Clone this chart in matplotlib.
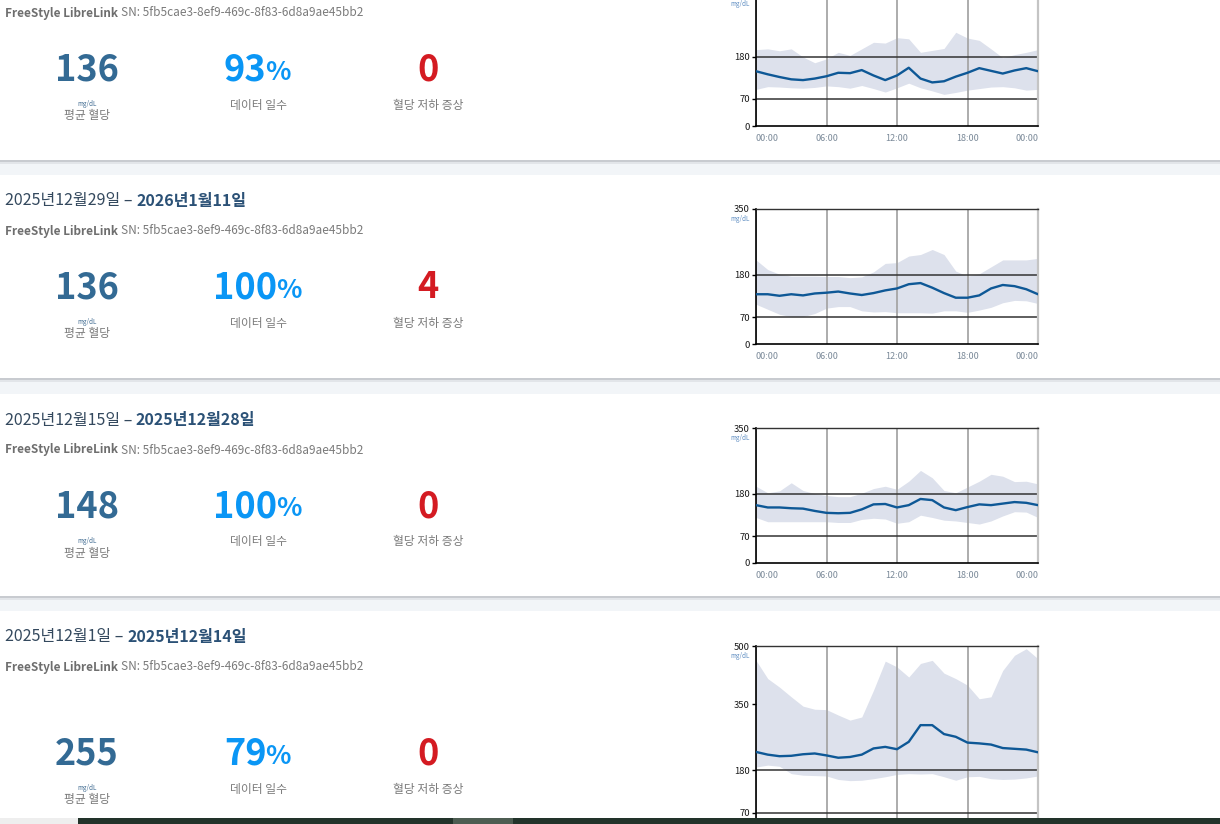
import matplotlib
matplotlib.use("Agg")
import matplotlib.pyplot as plt
from matplotlib.patches import Rectangle
import numpy as np

plt.rcParams['font.family'] = ['Noto Sans CJK KR', 'DejaVu Sans']

W, H = 1220, 824

hours = np.arange(0, 25)

title_start = [None, '2025년12월29일', '2025년12월15일', '2025년12월1일']
title_end = [None, '2026년1월11일', '2025년12월28일', '2025년12월14일']
avg_glucose = [136, 136, 148, 255]
data_days = [93, 100, 100, 79]
hypo_events = [0, 4, 0, 0]
device = 'FreeStyle LibreLink'
serial = 'SN: 5fb5cae3-8ef9-469c-8f83-6d8a9ae45bb2'

y_max = [350, 350, 350, 500]
# nur die im Screenshot sichtbaren Ticks
y_ticks = [[0, 70, 180], [0, 70, 180, 350], [0, 70, 180, 350], [70, 180, 350, 500]]
target_lines = [70, 180]
x_ticks = [0, 6, 12, 18, 24]
x_labels = ['00:00', '06:00', '12:00', '18:00', '00:00']

median_1 = [142, 134, 127, 121, 119, 123, 129, 138, 137, 145, 131, 119, 131,
            151, 123, 113, 116, 128, 138, 150, 143, 136, 144, 150, 142]
high_1 = [198, 200, 195, 200, 179, 164, 174, 191, 183, 200, 217, 215, 229,
          226, 191, 196, 201, 243, 228, 222, 200, 177, 185, 191, 198]
low_1 = [95, 102, 101, 99, 98, 100, 104, 102, 98, 105, 97, 88, 99,
         111, 99, 91, 82, 87, 93, 97, 101, 102, 99, 93, 95]

median_2 = [129, 129, 125, 129, 126, 131, 133, 136, 131, 127, 132, 139, 144,
            155, 158, 146, 132, 120, 120, 126, 144, 153, 150, 142, 129]
high_2 = [218, 193, 181, 176, 176, 176, 175, 175, 172, 174, 187, 209, 211,
          228, 232, 245, 232, 189, 176, 182, 200, 218, 218, 218, 222]
low_2 = [103, 90, 77, 71, 71, 79, 93, 97, 97, 86, 83, 84, 81,
         81, 81, 80, 86, 86, 82, 88, 95, 107, 113, 112, 105]

median_3 = [150, 144, 144, 142, 141, 135, 130, 129, 130, 139, 152, 153, 144,
            150, 166, 163, 144, 137, 145, 152, 150, 154, 158, 156, 150]
high_3 = [199, 182, 187, 208, 188, 180, 175, 172, 172, 181, 193, 199, 191,
          212, 240, 221, 188, 182, 197, 212, 230, 225, 211, 212, 205]
low_3 = [118, 107, 107, 107, 107, 107, 107, 105, 105, 113, 116, 114, 103,
         107, 124, 118, 111, 109, 105, 101, 109, 122, 133, 132, 118]

median_4 = [227, 220, 216, 217, 221, 223, 218, 212, 214, 220, 236, 240, 234,
            253, 296, 296, 273, 266, 251, 249, 246, 237, 235, 233, 226]
high_4 = [463, 416, 394, 369, 345, 337, 336, 322, 309, 317, 386, 461, 446,
          420, 455, 463, 430, 416, 399, 364, 369, 437, 476, 493, 467]
low_4 = [188, 193, 190, 171, 167, 166, 165, 156, 153, 154, 158, 163, 169,
         171, 170, 171, 163, 154, 163, 164, 158, 156, 157, 160, 165]

medians = [median_1, median_2, median_3, median_4]
highs = [high_1, high_2, high_3, high_4]
lows = [low_1, low_2, low_3, low_4]

# ---- Layout in Pixeln ----
card_top = [-43, 175, 394, 611]
card_bottom = [160, 378, 596, 818]
plot_top = [-9, 209, 428, 646]
plot_h = [135, 135, 135, 194]
num_offset = [113, 113, 113, 143]
plot_left, plot_right = 756, 1038
col_x = [87, 258, 428]

c_title = '#34495e'
c_title_b = '#2b5176'
c_grey = '#7a7a7a'
c_avg = '#336a94'
c_pct = '#0a96f5'
c_red = '#d41b22'
c_line = '#0e5896'
c_band = '#dde1ec'


def fx(x):
    return x / W


def fy(y):
    return 1 - y / H


fig = plt.figure(figsize=(W / 100, H / 100), dpi=100, facecolor='#f2f5f8')
renderer = fig.canvas.get_renderer()


def text_px(x, y, s, **kw):
    return fig.text(fx(x), fy(y), s, va='center', **kw)


def width_px(t):
    return t.get_window_extent(renderer).width


for i in range(4):
    top, bot = card_top[i], card_bottom[i]
    # Karte + Schatten
    fig.patches.append(Rectangle((0, fy(bot)), 1, fy(top) - fy(bot), transform=fig.transFigure,
                                 facecolor='white', edgecolor='none', zorder=-3))
    fig.patches.append(Rectangle((0, fy(bot + 2)), 1, 2 / H, transform=fig.transFigure,
                                 facecolor='#c8cbd0', edgecolor='none', zorder=-2))
    fig.patches.append(Rectangle((0, fy(bot + 4)), 1, 2 / H, transform=fig.transFigure,
                                 facecolor='#e2e5e9', edgecolor='none', zorder=-2))

    # Titel
    if title_start[i] is not None:
        t1 = text_px(5, top + 26, title_start[i] + ' – ', fontsize=11.5, color=c_title)
        text_px(5 + width_px(t1), top + 26, title_end[i], fontsize=11.5,
                color=c_title_b, fontweight='bold')

    # Geraet
    t2 = text_px(5, top + 56, device + ' ', fontsize=8.5, color='#6e6e6e', fontweight='bold')
    text_px(5 + width_px(t2), top + 56, serial, fontsize=8.5, color=c_grey)

    # Kennzahlen
    ny = top + num_offset[i]
    text_px(col_x[0], ny, str(avg_glucose[i]), fontsize=26, color=c_avg,
            fontweight='bold', ha='center')
    tn = text_px(0, ny, str(data_days[i]), fontsize=26, color=c_pct, fontweight='bold')
    tp = text_px(0, ny + 2, '%', fontsize=19, color=c_pct, fontweight='bold')
    wn, wp = width_px(tn), width_px(tp)
    x0 = col_x[1] - (wn + wp) / 2
    tn.set_x(fx(x0))
    tp.set_x(fx(x0 + wn - 1))
    text_px(col_x[2], ny, str(hypo_events[i]), fontsize=26, color=c_red,
            fontweight='bold', ha='center')

    text_px(col_x[0], ny + 34, 'mg/dL', fontsize=4.5, color='#3e6a90', ha='center')
    text_px(col_x[0], ny + 46, '평균 혈당', fontsize=8.5, color=c_grey, ha='center')
    text_px(col_x[1], ny + 35, '데이터 일수', fontsize=8.5, color=c_grey, ha='center')
    text_px(col_x[2], ny + 35, '혈당 저하 증상', fontsize=8.5, color=c_grey, ha='center')

    # Diagramm
    ax = fig.add_axes([fx(plot_left), fy(plot_top[i] + plot_h[i]),
                       (plot_right - plot_left) / W, plot_h[i] / H])
    ax.set_facecolor('none')
    ax.fill_between(hours, lows[i], highs[i], color=c_band, lw=0, zorder=1)
    for v in target_lines:
        ax.axhline(v, color='#333333', lw=1.1, zorder=2)
    ax.plot(hours, medians[i], color=c_line, lw=1.7, zorder=3, solid_capstyle='round')
    ax.set_xlim(0, 24)
    ax.set_ylim(0, y_max[i])
    ax.set_xticks(x_ticks)
    ax.set_xticklabels(x_labels)
    ax.set_yticks(y_ticks[i])
    ax.grid(axis='x', color='#a6a6a6', lw=1.3, zorder=0)
    ax.tick_params(axis='x', length=0, pad=6, labelsize=6.5, labelcolor='#7b8a99')
    ax.tick_params(axis='y', length=3, width=1, pad=1.5, labelsize=6.8, labelcolor='#1a1a1a')
    labels = ax.get_xticklabels()
    labels[0].set_horizontalalignment('left')
    labels[-1].set_horizontalalignment('right')
    if i == 3:
        # untere Achse liegt ausserhalb des Bildausschnitts
        ax.tick_params(axis='x', labelbottom=False)
    ax.spines['left'].set_color('black')
    ax.spines['left'].set_linewidth(1.2)
    ax.spines['bottom'].set_color('black')
    ax.spines['bottom'].set_linewidth(1.2)
    ax.spines['top'].set_color('#333333')
    ax.spines['top'].set_linewidth(1.0)
    ax.spines['right'].set_color('#c4c4c4')
    ax.spines['right'].set_linewidth(1.6)
    text_px(740, max(plot_top[i] + 10, 4), 'mg/dL', fontsize=4.5, color='#5a8ac0', ha='center')

# Leiste unten (Taskbar)
fig.patches.append(Rectangle((0, 0), fx(78), 6 / H, transform=fig.transFigure,
                             facecolor='#eeeeee', edgecolor='none', zorder=10))
fig.patches.append(Rectangle((fx(78), 0), 1 - fx(78), 6 / H, transform=fig.transFigure,
                             facecolor='#22332a', edgecolor='none', zorder=10))
fig.patches.append(Rectangle((fx(453), 0), fx(60), 6 / H, transform=fig.transFigure,
                             facecolor='#4d5d52', edgecolor='none', zorder=11))

fig.savefig('out.png', dpi=100, facecolor=fig.get_facecolor())
